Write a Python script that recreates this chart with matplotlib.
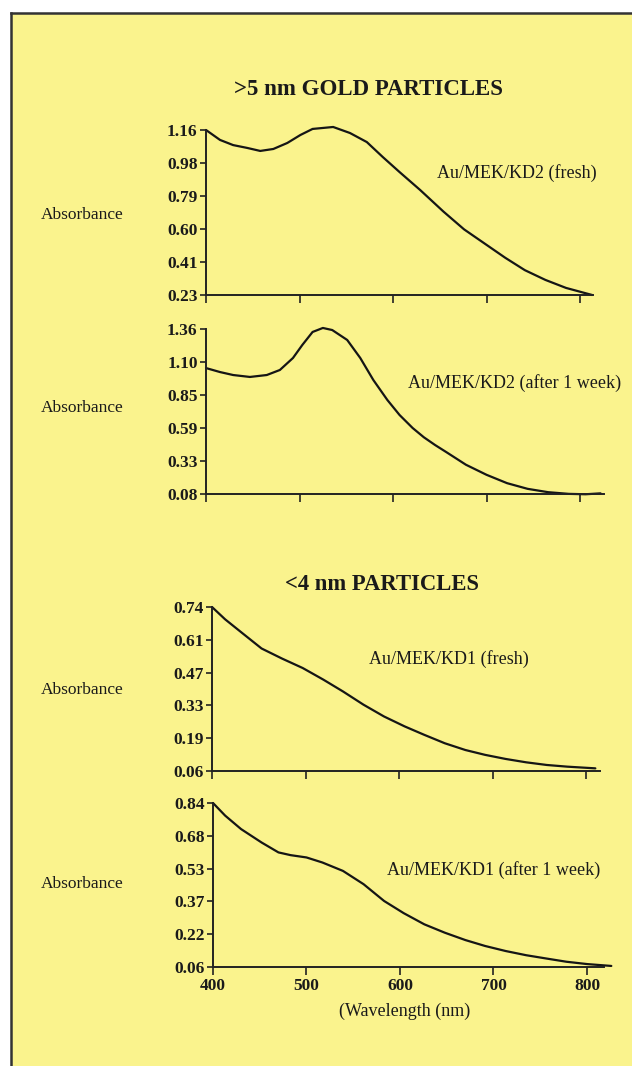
import matplotlib.pyplot as plt
import numpy as np

# font: serif, like the scanned page
plt.rcParams['font.family'] = ['Liberation Serif', 'DejaVu Serif']

# data (wavelength nm, absorbance)
wl_kd2_fresh = [400, 415, 429, 444, 458, 472, 487, 501, 514, 536, 554, 572, 589,
                607, 629, 654, 676, 698, 720, 741, 763, 785, 813]
ab_kd2_fresh = [1.16, 1.104, 1.075, 1.059, 1.042, 1.053, 1.087, 1.132, 1.166, 1.177,
                1.143, 1.092, 1.008, 0.923, 0.822, 0.70, 0.60, 0.52, 0.44, 0.37,
                0.315, 0.27, 0.23]

wl_kd2_week = [400, 415, 429, 447, 465, 479, 493, 503, 514, 525, 535, 551, 565,
               579, 594, 607, 621, 633, 645, 657, 678, 700, 722, 744, 766, 788, 806, 822]
ab_kd2_week = [1.057, 1.026, 1.003, 0.988, 1.003, 1.042, 1.135, 1.236, 1.337, 1.368,
               1.352, 1.275, 1.135, 0.964, 0.809, 0.693, 0.592, 0.52, 0.46, 0.405,
               0.307, 0.229, 0.164, 0.12, 0.094, 0.081, 0.078, 0.085]

wl_kd1_fresh = [400, 414, 432, 453, 475, 497, 519, 540, 562, 584, 606, 627, 649,
                671, 692, 714, 736, 758, 780, 810]
ab_kd1_fresh = [0.74, 0.689, 0.633, 0.568, 0.526, 0.487, 0.439, 0.39, 0.335, 0.286,
                0.245, 0.21, 0.175, 0.147, 0.127, 0.11, 0.096, 0.085, 0.078, 0.071]

wl_kd1_week = [400, 413, 430, 452, 470, 483, 500, 517, 539, 561, 583, 604, 626,
               648, 670, 691, 713, 735, 757, 778, 800, 826]
ab_kd1_week = [0.84, 0.78, 0.716, 0.652, 0.605, 0.592, 0.581, 0.557, 0.517, 0.454,
               0.374, 0.316, 0.263, 0.223, 0.188, 0.16, 0.136, 0.116, 0.1, 0.085,
               0.074, 0.065]

labels = ['Au/MEK/KD2 (fresh)', 'Au/MEK/KD2 (after 1 week)',
          'Au/MEK/KD1 (fresh)', 'Au/MEK/KD1 (after 1 week)']
ytick_labels = [['1.16', '0.98', '0.79', '0.60', '0.41', '0.23'],
                ['1.36', '1.10', '0.85', '0.59', '0.33', '0.08'],
                ['0.74', '0.61', '0.47', '0.33', '0.19', '0.06'],
                ['0.84', '0.68', '0.53', '0.37', '0.22', '0.06']]
xticks = [400, 500, 600, 700, 800]
titles = ['>5 nm GOLD PARTICLES', '<4 nm PARTICLES']

W, H = 632, 1066
bg = '#faf38d'
ink = '#1a1a1a'
fig = plt.figure(figsize=(W / 100, H / 100), dpi=100, facecolor='white')

# yellow page with dark frame on left and top
fig.patches.append(plt.Rectangle((11 / W, 0), 1, 1 - 13 / H, transform=fig.transFigure,
                                 facecolor=bg, edgecolor='none', zorder=-10))
fig.add_artist(plt.Line2D([11 / W, 11 / W], [0, 1 - 13 / H], color='#333333', lw=1.8))
fig.add_artist(plt.Line2D([11 / W, 1], [1 - 13 / H, 1 - 13 / H], color='#333333', lw=1.8))

xs = [wl_kd2_fresh, wl_kd2_week, wl_kd1_fresh, wl_kd1_week]
ys = [ab_kd2_fresh, ab_kd2_week, ab_kd1_fresh, ab_kd1_week]

# pixel layout: (axis x at 400nm, y of top tick, y of bottom tick, xmax, label x, label y, absorbance y)
layout = [(206, 130, 295, 814, 437, 173, 215),
          (206, 329, 494, 826, 408, 383, 408),
          (212, 607, 771, 815, 369, 659, 690),
          (213, 803, 967, 818, 387, 870, 884)]
pxnm = 0.935

for i in range(4):
    x0, ytop, ybot, xmax, lx, ly, absy = layout[i]
    ax = fig.add_axes([x0 / W, 1 - ybot / H, (xmax - 400) * pxnm / W, (ybot - ytop) / H])
    ax.patch.set_alpha(0)
    ax.plot(xs[i], ys[i], color='#151515', lw=1.6, clip_on=False,
            solid_joinstyle='round', solid_capstyle='round')
    lo = float(ytick_labels[i][-1])
    hi = float(ytick_labels[i][0])
    ax.set_xlim(400, xmax)
    ax.set_ylim(lo, hi)
    ax.set_yticks(np.linspace(hi, lo, 6))
    ax.set_yticklabels(ytick_labels[i], fontsize=12.5, fontweight='bold', color=ink)
    ax.set_xticks(xticks)
    if i == 3:
        ax.set_xticklabels([str(t) for t in xticks], fontsize=12.5, fontweight='bold',
                           color=ink)
    else:
        ax.set_xticklabels([])
    ax.tick_params(axis='y', length=4, width=1.2, pad=2, color='#222222')
    ax.tick_params(axis='x', length=6, width=1.2, pad=2, color='#222222')
    for s in ['top', 'right']:
        ax.spines[s].set_visible(False)
    for s in ['left', 'bottom']:
        ax.spines[s].set_linewidth(1.4)
        ax.spines[s].set_color('#222222')
    fig.text(lx / W, 1 - ly / H, labels[i], fontsize=13, ha='left', va='center',
             color=ink)
    fig.text(82 / W, 1 - absy / H, 'Absorbance', fontsize=12.5, ha='center', va='center',
             color=ink)

fig.text(368 / W, 1 - 90 / H, titles[0], fontsize=16.5, fontweight='bold', ha='center',
         va='center', color=ink)
fig.text(382 / W, 1 - 585 / H, titles[1], fontsize=16.3, fontweight='bold', ha='center',
         va='center', color=ink)
fig.text(405 / W, 1 - 1011 / H, '(Wavelength (nm)', fontsize=13, ha='center',
         va='center', color=ink)

fig.savefig('out.png', dpi=100, facecolor='white')
